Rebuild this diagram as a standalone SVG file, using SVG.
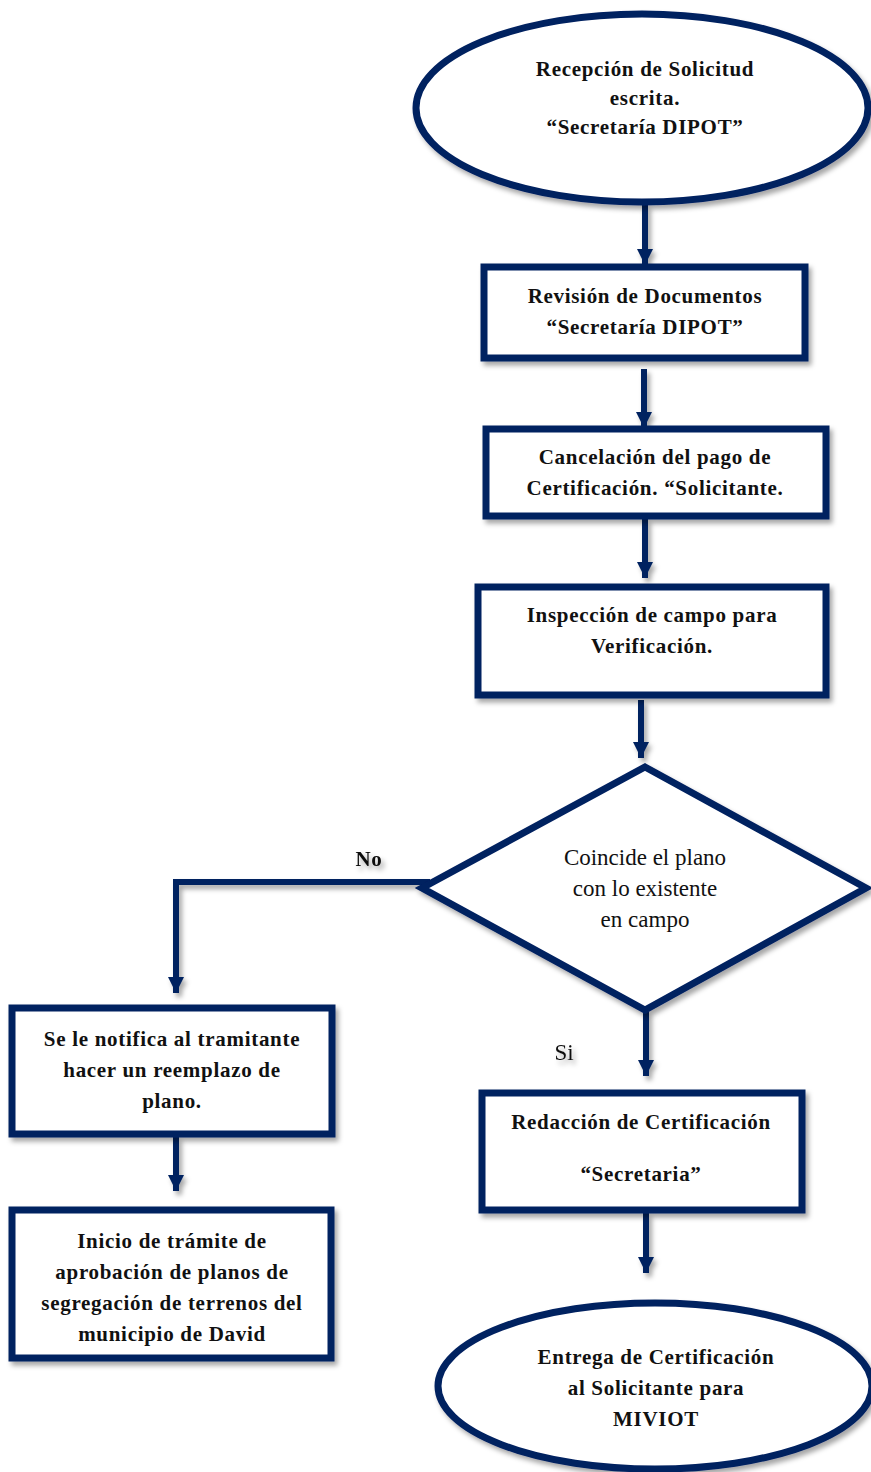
<svg xmlns="http://www.w3.org/2000/svg" width="871" height="1472" viewBox="0 0 871 1472">
<style>
.shape{fill:#ffffff;stroke:#002060;stroke-width:7;filter:url(#sh)}
text{font-family:"Liberation Serif","Times New Roman",serif;fill:#111;text-anchor:middle}
.lbl{font-size:21px;font-weight:bold;letter-spacing:0.7px}
.cond{font-size:23px}
.conn{stroke:#002060;stroke-width:6;fill:none}
</style>
<defs>
<filter id="sh" x="-10%" y="-10%" width="125%" height="130%">
<feDropShadow dx="3" dy="4" stdDeviation="2.5" flood-color="#000" flood-opacity="0.35"/>
</filter>
<marker id="ah" markerUnits="userSpaceOnUse" markerWidth="18" markerHeight="16" refX="16" refY="8" orient="auto">
<path d="M0,0 L16,8 L0,16 Z" fill="#002060"/>
</marker>
</defs>
<g id="connectors" filter="url(#sh)">
<line class="conn" x1="645" y1="205" x2="645" y2="265" marker-end="url(#ah)"/>
<line class="conn" x1="644" y1="369" x2="644" y2="428" marker-end="url(#ah)"/>
<line class="conn" x1="645" y1="519" x2="645" y2="578" marker-end="url(#ah)"/>
<line class="conn" x1="641" y1="700" x2="641" y2="758" marker-end="url(#ah)"/>
<polyline class="conn" points="430,882 176,882 176,993" marker-end="url(#ah)"/>
<line class="conn" x1="176" y1="1137" x2="176" y2="1191" marker-end="url(#ah)"/>
<line class="conn" x1="646" y1="1012" x2="646" y2="1076" marker-end="url(#ah)"/>
<line class="conn" x1="646" y1="1213" x2="646" y2="1273" marker-end="url(#ah)"/>
<text class="lbl" x="369" y="866">No</text>
<text class="cond" x="564" y="1060">Si</text>
</g>
<g id="n1">
<ellipse class="shape" cx="642" cy="108" rx="226" ry="94"/>
<text class="lbl" x="645" y="76">Recepción de Solicitud</text>
<text class="lbl" x="645" y="105">escrita.</text>
<text class="lbl" x="645" y="134">“Secretaría DIPOT”</text>
</g>
<g id="n2">
<rect class="shape" x="484" y="267" width="321" height="91"/>
<text class="lbl" x="645" y="303">Revisión de Documentos</text>
<text class="lbl" x="645" y="334">“Secretaría DIPOT”</text>
</g>
<g id="n3">
<rect class="shape" x="486" y="429" width="340" height="87"/>
<text class="lbl" x="655" y="464">Cancelación del pago de</text>
<text class="lbl" x="655" y="495">Certificación. “Solicitante.</text>
</g>
<g id="n4">
<rect class="shape" x="478" y="587" width="348" height="108"/>
<text class="lbl" x="652" y="622">Inspección de campo para</text>
<text class="lbl" x="652" y="653">Verificación.</text>
</g>
<g id="n5">
<polygon class="shape" points="645,767 866,888 645,1010 422,888"/>
<text class="cond" x="645" y="865">Coincide el plano</text>
<text class="cond" x="645" y="896">con lo existente</text>
<text class="cond" x="645" y="927">en campo</text>
</g>
<g id="n6">
<rect class="shape" x="12" y="1008" width="320" height="126"/>
<text class="lbl" x="172" y="1046">Se le notifica al tramitante</text>
<text class="lbl" x="172" y="1077">hacer un reemplazo de</text>
<text class="lbl" x="172" y="1108">plano.</text>
</g>
<g id="n7">
<rect class="shape" x="12" y="1210" width="319" height="148"/>
<text class="lbl" x="172" y="1248">Inicio de trámite de</text>
<text class="lbl" x="172" y="1279">aprobación de planos de</text>
<text class="lbl" x="172" y="1310">segregación de terrenos del</text>
<text class="lbl" x="172" y="1341">municipio de David</text>
</g>
<g id="n8">
<rect class="shape" x="482" y="1093" width="320" height="117"/>
<text class="lbl" x="641" y="1129">Redacción de Certificación</text>
<text class="lbl" x="641" y="1181">“Secretaria”</text>
</g>
<g id="n9">
<ellipse class="shape" cx="655" cy="1386" rx="217" ry="83"/>
<text class="lbl" x="656" y="1364">Entrega de Certificación</text>
<text class="lbl" x="656" y="1395">al Solicitante para</text>
<text class="lbl" x="656" y="1426">MIVIOT</text>
</g>
</svg>
